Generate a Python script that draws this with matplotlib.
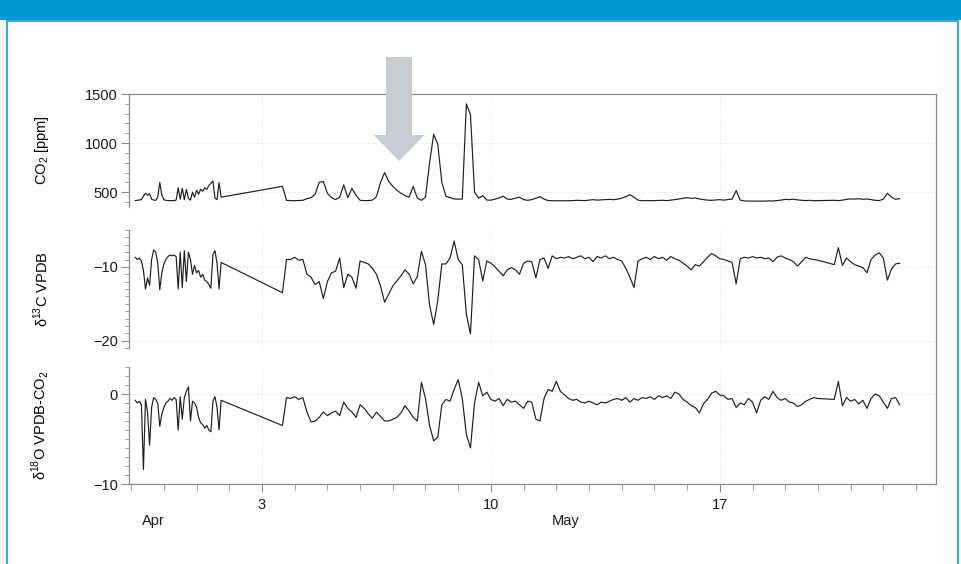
import numpy as np
import pandas as pd
import matplotlib
matplotlib.use("Agg")
import matplotlib.pyplot as plt
import matplotlib.dates as mdates
import matplotlib.transforms as mtransforms
from matplotlib.patches import FancyArrow, Rectangle
from matplotlib.ticker import FixedLocator, MultipleLocator, FuncFormatter

plt.rcParams['font.family'] = ['Liberation Sans', 'DejaVu Sans']
plt.rcParams['mathtext.fontset'] = 'custom'
plt.rcParams['mathtext.rm'] = 'Liberation Sans'

# sampling times of the three measurement runs
t_a = pd.date_range('2014-04-29 03:00', periods=43, freq='90min')
t_b = pd.date_range('2014-05-03 15:00', periods=132, freq='3h')
t_c = pd.date_range('2014-05-20 12:00', periods=17, freq='3h')

# CO2 [ppm]
co2_a = [415, 418, 420, 425, 460, 490, 470, 485, 430, 420,
         418, 450, 600, 470, 425, 418, 415, 415, 416, 415,
         420, 545, 430, 540, 425, 530, 440, 420, 500, 450,
         520, 480, 530, 510, 545, 530, 570, 590, 615, 440,
         425, 600, 450]
co2_b = [560, 418, 415, 414, 416, 418, 435, 445,
         480, 600, 610, 490, 445, 425, 450, 575,
         445, 540, 470, 418, 415, 415, 420, 455,
         600, 700, 610, 560, 520, 490, 466, 450,
         560, 440, 418, 450, 800, 1090, 990, 600,
         460, 445, 432, 430, 432, 1400, 1290, 500,
         440, 465, 420, 420, 430, 442, 460, 430,
         428, 440, 450, 425, 418, 425, 440, 455,
         430, 415, 414, 413, 414, 413, 414, 415,
         418, 416, 415, 420, 425, 420, 422, 425,
         428, 424, 430, 440, 455, 475, 450, 420,
         414, 414, 413, 415, 416, 418, 415, 420,
         425, 432, 440, 445, 438, 442, 432, 425,
         420, 418, 422, 425, 420, 426, 430, 517,
         420, 412, 410, 410, 411, 410, 410, 412,
         411, 415, 420, 428, 425, 430, 422, 418,
         415, 418, 414, 415]
co2_c = [418, 415, 420, 428, 432, 430, 435, 428, 432, 425,
         418, 415, 430, 490, 450, 428, 435]

# d13C VPDB
d13c_a = [-8.7, -9.0, -8.8, -9.2, -10.5, -13.0, -11.5, -12.5, -9.0, -7.7,
          -8.0, -9.5, -13.1, -10.8, -9.6, -9.0, -8.6, -8.4, -8.5, -8.4,
          -8.6, -13.0, -8.0, -12.8, -7.8, -12.0, -8.0, -9.0, -11.0, -9.8,
          -10.8, -10.5, -11.4, -11.0, -11.8, -12.0, -12.4, -12.9, -8.3, -7.8,
          -9.5, -13.0, -9.4]
d13c_b = [-13.5, -9.0, -9.0, -8.7, -9.1, -9.0, -11.0, -11.4,
          -12.4, -12.0, -14.3, -12.0, -10.8, -10.6, -8.8, -12.8,
          -11.0, -11.4, -12.9, -9.2, -9.4, -9.6, -10.2, -11.0,
          -12.6, -14.8, -13.7, -12.6, -11.9, -11.2, -10.4, -11.0,
          -12.3, -11.3, -7.9, -9.7, -15.2, -17.8, -14.6, -9.6,
          -9.6, -8.8, -6.5, -9.0, -9.7, -16.4, -19.1, -8.5,
          -9.0, -11.9, -9.2, -9.5, -10.0, -10.6, -11.2, -10.4,
          -10.1, -10.4, -11.0, -9.5, -9.2, -9.3, -11.5, -9.0,
          -8.8, -10.2, -8.5, -8.9, -8.7, -8.8, -8.6, -8.9,
          -8.7, -8.5, -8.9, -8.7, -9.3, -8.6, -8.8, -8.5,
          -8.9, -8.7, -9.0, -9.2, -10.2, -11.4, -12.8, -9.2,
          -8.9, -8.7, -9.0, -8.6, -8.9, -8.7, -9.1, -8.6,
          -8.9, -9.1, -9.5, -9.9, -10.4, -9.7, -9.9, -9.3,
          -8.7, -8.2, -8.5, -8.9, -9.0, -9.2, -9.4, -12.3,
          -8.9, -8.7, -8.8, -8.6, -8.8, -8.7, -8.9, -8.8,
          -9.3, -8.7, -8.5, -8.8, -9.0, -9.3, -9.9, -9.3,
          -8.7, -8.9, -9.0, -9.1]
d13c_c = [-9.7, -7.4, -9.8, -8.8, -9.3, -9.7, -9.9, -10.1, -10.8, -9.0,
          -8.4, -8.1, -8.8, -11.8, -10.3, -9.6, -9.5]

# d18O VPDB-CO2
d18o_a = [-0.7, -1.0, -0.8, -1.2, -8.4, -0.6, -2.0, -5.7, -1.5, -0.4,
          -0.6, -1.0, -3.6, -2.2, -1.5, -1.0, -0.8, -0.5, -0.7, -0.4,
          -0.6, -4.0, -0.3, -2.8, -0.4, 0.3, 0.8, -3.0, -0.8, -1.0,
          -1.5, -2.6, -3.2, -3.4, -3.8, -3.5, -4.0, -4.2, -0.8, -0.3,
          -1.5, -4.0, -0.7]
d18o_b = [-3.5, -0.4, -0.5, -0.3, -0.6, -0.4, -2.0, -3.1,
          -3.0, -2.6, -2.0, -2.4, -2.1, -1.9, -2.4, -0.9,
          -1.6, -2.0, -2.6, -1.2, -1.6, -2.2, -2.7, -2.0,
          -2.5, -3.0, -3.0, -2.8, -2.6, -2.1, -1.3, -1.9,
          -2.6, -3.0, 1.3, -0.5, -3.5, -5.2, -4.8, -1.2,
          -0.6, -0.8, 0.5, 1.6, -0.5, -4.5, -6.0, -1.0,
          1.3, -0.2, 0.2, -0.6, -0.8, -0.5, -1.3, -0.6,
          -0.9, -0.8, -1.2, -1.6, -0.8, -0.9, -2.8, -3.0,
          -0.5, 0.5, 0.3, 1.4, 0.3, -0.1, -0.5, -0.7,
          -0.6, -0.9, -1.0, -0.8, -1.0, -1.2, -0.9, -1.0,
          -0.8, -0.6, -0.5, -0.7, -0.4, -0.9, -0.5, -0.7,
          -0.4, -0.5, -0.3, -0.6, -0.2, -0.4, -0.2, -0.5,
          0.2, 0.0, -0.6, -0.9, -1.3, -1.5, -2.1, -1.1,
          -0.6, 0.1, 0.3, -0.1, -0.2, -0.6, -0.5, -1.5,
          -1.0, -1.2, -0.5, -0.9, -2.1, -0.7, -0.3, -0.6,
          0.3, -0.4, -0.7, -0.5, -0.9, -1.0, -1.4, -1.2,
          -0.8, -0.6, -0.4, -0.5]
d18o_c = [-0.6, 1.4, -1.3, -0.4, -0.8, -0.6, -1.1, -0.7, -1.6, -0.5,
          0.0, -0.2, -0.9, -1.6, -0.5, -0.4, -1.2]

times = t_a.append(t_b).append(t_c)
co2 = co2_a + co2_b + co2_c
d13c = d13c_a + d13c_b + d13c_c
d18o = d18o_a + d18o_b + d18o_c

W, H = 962, 564
fig = plt.figure(figsize=(W / 100, H / 100), dpi=100)

def box(x0, y0, x1, y1):
    # pixel box (top-left origin) -> figure fraction rect
    return [x0 / W, 1 - y1 / H, (x1 - x0) / W, (y1 - y0) / H]

# page decoration: blue header band and thin frame
fig.add_artist(Rectangle((0, 1 - 20 / H), 1, 20 / H, transform=fig.transFigure,
                         facecolor='#0096d8', edgecolor='none', zorder=-5))
fig.add_artist(Rectangle((7 / W, -0.02), (958 - 7) / W, 1 - 21 / H + 0.02,
                         transform=fig.transFigure, fill=False,
                         edgecolor='#45a6dc', lw=1.5, zorder=-5))

spine_col = '#8a8a8a'
grid_kw = dict(color='#dcdcdc', lw=0.6, ls=':')

ax1 = fig.add_axes(box(129, 94, 936, 207), zorder=1)
ax2 = fig.add_axes(box(129, 230, 936, 348), sharex=ax1, zorder=1)
ax3 = fig.add_axes(box(129, 367, 936, 484), sharex=ax1, zorder=1)

# outer box: top and right edges shared by the three panels
frame = fig.add_axes(box(129, 94, 936, 484), zorder=2)
frame.patch.set_visible(False)
for s in ['left', 'bottom']:
    frame.spines[s].set_visible(False)
for s in ['top', 'right']:
    frame.spines[s].set_color(spine_col)
    frame.spines[s].set_linewidth(0.9)
frame.set_xticks([])
frame.set_yticks([])

series = [(ax1, co2), (ax2, d13c), (ax3, d18o)]
for ax, vals in series:
    ax.plot(times, vals, color='#1e1e1e', lw=0.85)
    ax.patch.set_visible(False)
    for s in ['top', 'right', 'bottom']:
        ax.spines[s].set_visible(False)
    ax.spines['left'].set_color(spine_col)
    ax.spines['left'].set_linewidth(0.9)
    ax.tick_params(axis='y', which='major', direction='out', length=6,
                   width=0.8, color=spine_col, labelsize=10.5, pad=2,
                   labelcolor='#1a1a1a')
    ax.tick_params(axis='y', which='minor', direction='out', length=3,
                   width=0.6, color=spine_col)
    ax.grid(True, which='major', **grid_kw)

ax1.set_ylim(350, 1500)
ax1.yaxis.set_major_locator(FixedLocator([500, 1000, 1500]))
ax1.yaxis.set_minor_locator(MultipleLocator(100))
ax1.set_ylabel('CO$_2$ [ppm]', fontsize=10.5)

ax2.set_ylim(-21, -5)
ax2.yaxis.set_major_locator(FixedLocator([-20, -10]))
ax2.yaxis.set_minor_locator(MultipleLocator(1))
ax2.set_ylabel('δ$^{13}$C VPDB', fontsize=10.5)

ax3.set_ylim(-10, 3)
ax3.yaxis.set_major_locator(FixedLocator([-10, 0]))
ax3.yaxis.set_minor_locator(MultipleLocator(1))
ax3.set_ylabel('δ$^{18}$O VPDB-CO$_2$', fontsize=10.5)

for ax in (ax1, ax2, ax3):
    ax.yaxis.set_label_coords(-0.097, 0.5)

ax1.set_xlim(pd.Timestamp('2014-04-28 22:24'), pd.Timestamp('2014-05-23 14:40'))
ax3.xaxis.set_major_locator(mdates.DayLocator(bymonthday=[3, 10, 17]))
ax3.xaxis.set_minor_locator(mdates.DayLocator())
ax3.xaxis.set_major_formatter(FuncFormatter(lambda v, p: str(mdates.num2date(v).day)))
ax3.spines['bottom'].set_visible(True)
ax3.spines['bottom'].set_color(spine_col)
ax3.spines['bottom'].set_linewidth(0.9)
ax3.tick_params(axis='x', which='major', direction='out', length=6, width=0.8,
                color=spine_col, labelsize=10.5, pad=4, labelcolor='#1a1a1a')
ax3.tick_params(axis='x', which='minor', direction='out', length=4, width=0.6,
                color=spine_col)
for ax in (ax1, ax2):
    ax.tick_params(axis='x', which='both', bottom=False, labelbottom=False)

# month names under the day numbers
trans = mtransforms.blended_transform_factory(ax3.transData, ax3.transAxes)
ax3.text(pd.Timestamp('2014-04-29 16:00'), -0.316, 'Apr', transform=trans,
         ha='center', va='center', fontsize=10.5, color='#1a1a1a')
ax3.text(pd.Timestamp('2014-05-12 07:00'), -0.316, 'May', transform=trans,
         ha='center', va='center', fontsize=10.5, color='#1a1a1a')

# grey arrow marking the event
fig.add_artist(FancyArrow(399 / W, 1 - 57 / H, 0, -(161 - 57) / H,
                          width=26 / W, head_width=51 / W, head_length=26 / H,
                          length_includes_head=True, transform=fig.transFigure,
                          facecolor='#c6ced3', edgecolor='none', zorder=5))

fig.savefig('out.png', dpi=100)
